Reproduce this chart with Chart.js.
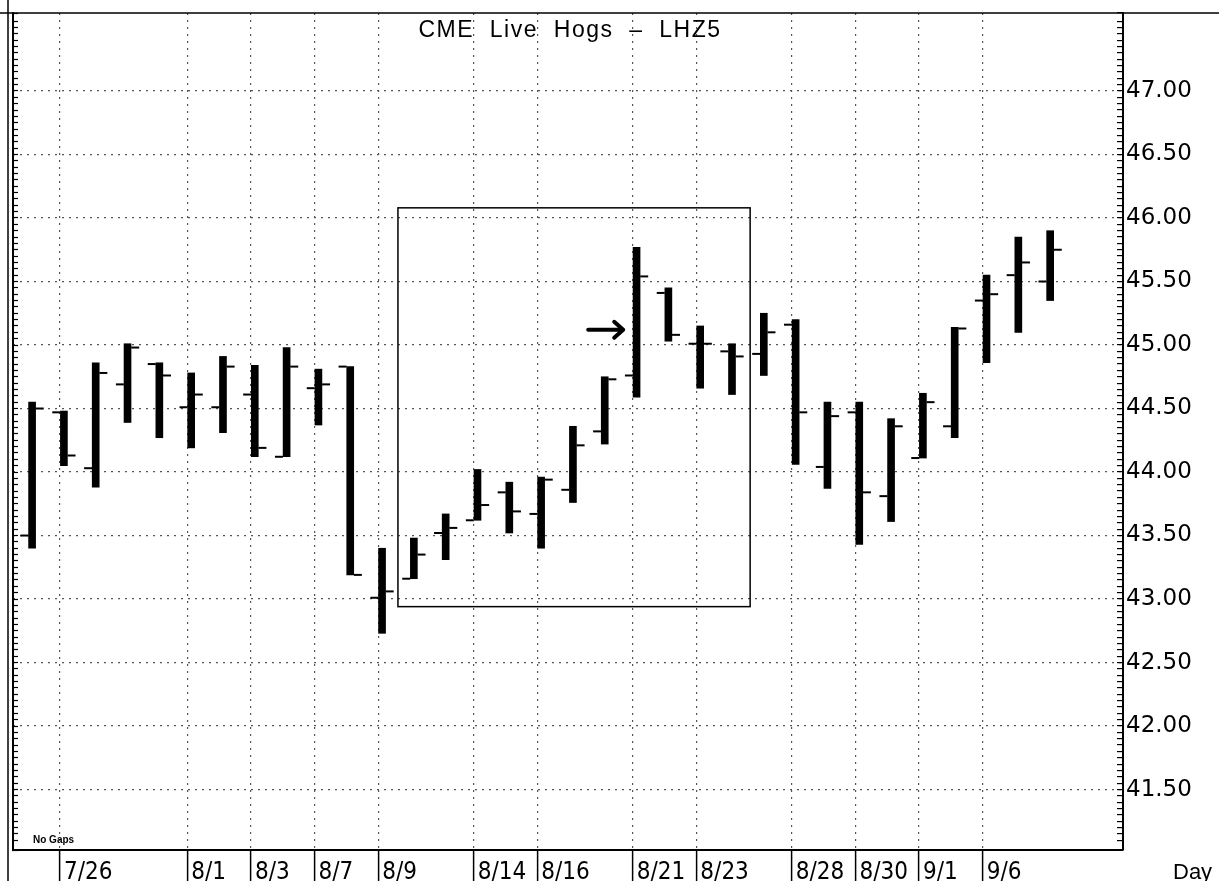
<!DOCTYPE html>
<html>
<head>
<meta charset="utf-8">
<title>CME Live Hogs - LHZ5</title>
<script src="https://cdn.jsdelivr.net/npm/chart.js@4.4.1/dist/chart.umd.min.js"></script>
<style>
  html, body { margin: 0; padding: 0; background: #fff; }
  #chart { display: block; }
</style>
</head>
<body>
<canvas id="chart" width="1219" height="881"></canvas>
<script>
// CME Live Hogs (LHZ5) daily bar chart, Jul 25 - Sep 8

const days = ['7/25', '7/26', '7/27', '7/28', '7/31', '8/1', '8/2', '8/3', '8/4', '8/7',
              '8/8', '8/9', '8/10', '8/11', '8/14', '8/15', '8/16', '8/17', '8/18', '8/21',
              '8/22', '8/23', '8/24', '8/25', '8/28', '8/29', '8/30', '8/31', '9/1', '9/5',
              '9/6', '9/7', '9/8'];
const opens  = [43.50, 44.47, 44.03, 44.69, 44.85, 44.51, 44.51, 44.61, 44.12, 44.66,
                44.83, 43.01, 43.16, 43.52, 43.62, 43.84, 43.67, 43.86, 44.32, 44.76,
                45.41, 45.01, 44.95, 44.93, 45.16, 44.04, 44.47, 43.81, 44.11, 44.36,
                45.35, 45.55, 45.50];
const highs  = [44.55, 44.48, 44.86, 45.01, 44.86, 44.78, 44.91, 44.84, 44.98, 44.81,
                44.83, 43.40, 43.48, 43.67, 44.02, 43.92, 43.96, 44.36, 44.75, 45.77,
                45.45, 45.15, 45.01, 45.25, 45.20, 44.55, 44.55, 44.42, 44.62, 45.14,
                45.55, 45.85, 45.90];
const lows   = [43.40, 44.05, 43.88, 44.39, 44.27, 44.19, 44.31, 44.12, 44.12, 44.37,
                43.19, 42.73, 43.16, 43.31, 43.62, 43.52, 43.40, 43.76, 44.22, 44.59,
                45.03, 44.66, 44.61, 44.76, 44.06, 43.87, 43.43, 43.61, 44.11, 44.27,
                44.86, 45.10, 45.35];
const closes = [44.50, 44.13, 44.78, 44.98, 44.76, 44.61, 44.83, 44.19, 44.83, 44.69,
                43.19, 43.06, 43.35, 43.56, 43.74, 43.69, 43.94, 44.21, 44.73, 45.54,
                45.08, 45.01, 44.91, 45.10, 44.47, 44.44, 43.84, 44.36, 44.55, 45.13,
                45.40, 45.65, 45.75];

// dates printed under the chart
const labelDays = ['7/26', '8/1', '8/3', '8/7', '8/9', '8/14', '8/16', '8/21', '8/23',
                   '8/28', '8/30', '9/1', '9/6'];
// price labels on the right axis
const priceLabels = ['41.50', '42.00', '42.50', '43.00', '43.50', '44.00', '44.50',
                     '45.00', '45.50', '46.00', '46.50', '47.00'];

const titleText = 'CME  Live  Hogs  \u2013  LHZ5';

// highlighted consolidation box (bar index / price) and the arrow at 8/21
const boxX = [11.5, 22.57];
const boxY = [42.94, 46.08];
const arrowX = [17.48, 18.58];
const arrowY = 45.12;

const Y_MIN = 41.024, Y_MAX = 47.614;
const X_MIN = -0.6, X_MAX = 34.29;
const TICK_OFF = 0.24;

const labelIndex = labelDays.map(d => days.indexOf(d));

function labelFor(v) {
  const s = Number(v).toFixed(2);
  return priceLabels.includes(s) && Math.abs(v - Number(s)) < 1e-6 ? s : '';
}

function noPad(s) {
  s.paddingTop = 0; s.paddingBottom = 0; s.paddingLeft = 0; s.paddingRight = 0;
}

const overlay = {
  id: 'overlay',
  afterDatasetsDraw(chart) {
    const c = chart.ctx;
    const xs = chart.scales.x, ys = chart.scales.y;
    const area = chart.chartArea;
    c.save();

    // outer frame
    c.strokeStyle = '#000';
    c.lineWidth = 1.5;
    c.beginPath();
    c.moveTo(8, 0); c.lineTo(8, chart.height);
    c.moveTo(0, area.top); c.lineTo(chart.width, area.top);
    c.stroke();

    // title inside the plot
    c.fillStyle = '#000';
    c.font = '23px "Liberation Sans", Arial, sans-serif';
    c.letterSpacing = '1.5px';
    c.textAlign = 'center';
    c.textBaseline = 'alphabetic';
    c.fillText(titleText, 570, 37);
    c.letterSpacing = '0px';

    // box
    const bx1 = xs.getPixelForValue(boxX[0]), bx2 = xs.getPixelForValue(boxX[1]);
    const by1 = ys.getPixelForValue(boxY[1]), by2 = ys.getPixelForValue(boxY[0]);
    c.lineWidth = 1.5;
    c.strokeRect(bx1, by1, bx2 - bx1, by2 - by1);

    // arrow
    const ax1 = xs.getPixelForValue(arrowX[0]), ax2 = xs.getPixelForValue(arrowX[1]);
    const ay = ys.getPixelForValue(arrowY);
    c.lineWidth = 4;
    c.lineCap = 'round';
    c.lineJoin = 'round';
    c.beginPath();
    c.moveTo(ax1, ay); c.lineTo(ax2, ay);
    c.moveTo(ax2 - 9, ay - 8); c.lineTo(ax2, ay); c.lineTo(ax2 - 9, ay + 8);
    c.stroke();

    // small notes
    c.textAlign = 'left';
    c.font = 'bold 10px "Liberation Sans", Arial, sans-serif';
    c.fillText('No Gaps', 33, 843);
    c.font = '22px "Liberation Sans", Arial, sans-serif';
    c.fillText('Day', 1173, 879);
    c.restore();
  }
};

const chart = new Chart(document.getElementById('chart').getContext('2d'), {
  data: {
    datasets: [
      {
        type: 'bar',
        data: days.map((d, i) => ({ x: i, y: [lows[i], highs[i]] })),
        backgroundColor: '#000',
        barThickness: 7,
        grouped: false,
        yAxisID: 'y',
        order: 2
      },
      {
        type: 'scatter',
        data: days.map((d, i) => ({ x: i - TICK_OFF, y: opens[i] })),
        pointStyle: 'line',
        pointRadius: 4,
        pointHoverRadius: 4,
        borderColor: '#000',
        borderWidth: 2,
        yAxisID: 'y',
        order: 1
      },
      {
        type: 'scatter',
        data: days.map((d, i) => ({ x: i + TICK_OFF, y: closes[i] })),
        pointStyle: 'line',
        pointRadius: 4,
        pointHoverRadius: 4,
        borderColor: '#000',
        borderWidth: 2,
        yAxisID: 'y',
        order: 1
      }
    ]
  },
  options: {
    responsive: false,
    animation: false,
    devicePixelRatio: 1,
    layout: { padding: { top: 13, left: 0, right: 0, bottom: 0 } },
    plugins: {
      legend: { display: false },
      tooltip: { enabled: false }
    },
    scales: {
      x: {
        type: 'linear',
        position: 'bottom',
        offset: false,
        min: X_MIN,
        max: X_MAX,
        afterBuildTicks: s => { s.ticks = labelIndex.map(i => ({ value: i - 0.12 })); },
        afterFit: s => { s.height = 31; noPad(s); },
        grid: { offset: false, color: '#555', lineWidth: 1.2, tickLength: 31, tickColor: '#000', tickWidth: 1.5 },
        border: { display: true, color: '#000', width: 2, dash: [2, 5] },
        ticks: {
          autoSkip: false,
          maxRotation: 0,
          align: 'start',
          labelOffset: 4,
          padding: -23,
          color: '#000',
          font: { family: "'Liberation Sans Narrow', 'DejaVu Sans Condensed', sans-serif", size: 24 },
          callback: (v, i) => labelDays[i]
        }
      },
      y: {
        type: 'linear',
        position: 'right',
        min: Y_MIN,
        max: Y_MAX,
        afterFit: s => { s.width = 96; noPad(s); },
        grid: {
          color: c => (c.tick && labelFor(c.tick.value)) ? '#555' : 'rgba(0,0,0,0)',
          lineWidth: 1.2,
          tickLength: -6,
          tickColor: '#000',
          tickWidth: 1.2
        },
        border: { display: true, color: '#000', width: 2, dash: [2, 5] },
        ticks: {
          stepSize: 0.05,
          autoSkip: false,
          padding: 9,
          color: '#000',
          font: { family: "'DejaVu Sans', sans-serif", size: 23 },
          callback: v => labelFor(v)
        }
      },
      yl: {
        type: 'linear',
        position: 'left',
        min: Y_MIN,
        max: Y_MAX,
        afterFit: s => { s.width = 13; noPad(s); },
        grid: { drawOnChartArea: false, tickLength: -5, tickColor: '#000', tickWidth: 1.2 },
        border: { display: true, color: '#000', width: 2 },
        ticks: { display: false, stepSize: 0.05, autoSkip: false }
      }
    }
  },
  plugins: [overlay]
});
</script>
</body>
</html>
